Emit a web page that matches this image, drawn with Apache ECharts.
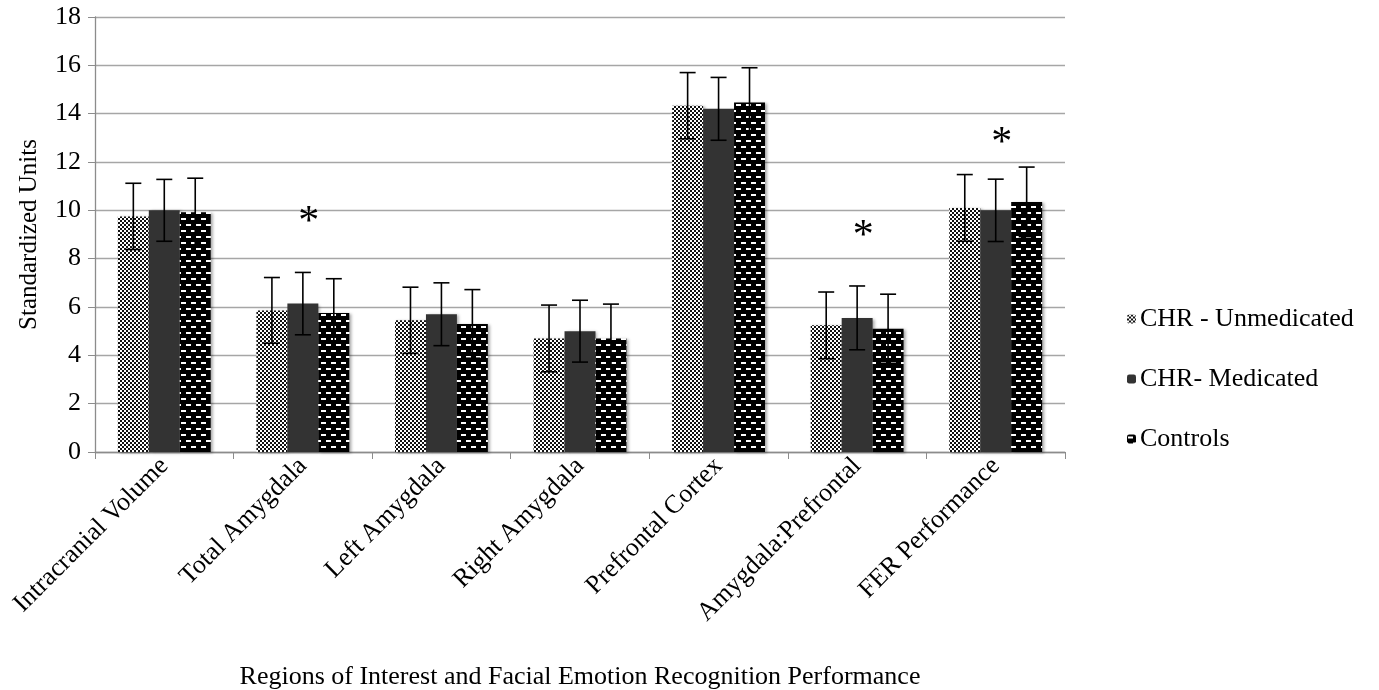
<!DOCTYPE html>
<html>
<head>
<meta charset="utf-8">
<script src="https://cdn.jsdelivr.net/npm/echarts@6/dist/echarts.min.js"></script>
<style>html,body{margin:0;padding:0;background:#fff}#c{width:1379px;height:690px}</style>
</head>
<body>
<div id="c"></div>
<script>
const categories = ["Intracranial Volume","Total Amygdala","Left Amygdala","Right Amygdala","Prefrontal Cortex","Amygdala:Prefrontal","FER Performance"];
const seriesNames = ["CHR - Unmedicated","CHR- Medicated","Controls"];
const unmedicated = [9.75, 5.86, 5.45, 4.7, 14.33, 5.24, 10.1];
const medicated   = [10.0, 6.14, 5.7, 5.0, 14.2, 5.55, 10.0];
const controls    = [9.92, 5.75, 5.3, 4.7, 14.46, 5.1, 10.35];
const unmedicatedErr = [1.37, 1.36, 1.37, 1.38, 1.37, 1.38, 1.38];
const medicatedErr   = [1.28, 1.29, 1.3, 1.28, 1.3, 1.32, 1.29];
const controlsErr    = [1.41, 1.42, 1.42, 1.42, 1.44, 1.43, 1.44];
const asteriskCats = [1, 5, 6];
const asteriskY = [9.75, 9.2, 13.05];
const yTicks = {min: 0, max: 18, interval: 2};

function checker() {
  const c = document.createElement('canvas'); c.width = 4; c.height = 4;
  const g = c.getContext('2d');
  g.fillStyle = '#ffffff'; g.fillRect(0,0,4,4);
  g.fillStyle = '#111111'; g.fillRect(0,0,2,2); g.fillRect(2,2,2,2);
  return {image: c, repeat: 'repeat'};
}
function dashes() {
  const c = document.createElement('canvas'); c.width = 10; c.height = 12;
  const g = c.getContext('2d');
  g.fillStyle = '#000000'; g.fillRect(0,0,10,12);
  g.fillStyle = '#ffffff';
  g.fillRect(1,2,5,2);
  g.fillRect(6,8,4,2); g.fillRect(0,8,1,2);
  return {image: c, repeat: 'repeat'};
}
const fills = [checker(), '#333333', dashes()];
const values = [unmedicated, medicated, controls];
const errs = [unmedicatedErr, medicatedErr, controlsErr];
const CAT_GAP = 0.33;
const FONT = '"Liberation Serif", "Times New Roman", serif';

const errData = [];
values.forEach((arr, s) => arr.forEach((v, i) => errData.push([i, v - errs[s][i], v + errs[s][i], s])));

const barSeries = values.map((arr, s) => ({
  name: seriesNames[s], type: 'bar', data: arr, barGap: '0%', barCategoryGap: (CAT_GAP*100) + '%',
  itemStyle: {color: fills[s], shadowColor: 'rgba(0,0,0,0.35)', shadowBlur: 3, shadowOffsetX: 2, shadowOffsetY: 1},
  emphasis: {disabled: true}, animation: false, z: 2
}));

const option = {
  animation: false,
  backgroundColor: '#fff',
  grid: {left: 95, right: 314, top: 17, bottom: 238, containLabel: false, outerBoundsMode: 'none'},
  legend: {
    orient: 'vertical', left: 1122, top: 301, itemWidth: 9, itemHeight: 9, itemGap: 34,
    data: seriesNames, selectedMode: false,
    textStyle: {fontFamily: FONT, fontSize: 26, color: '#000', padding: [0,0,0,-1]}
  },
  xAxis: {
    type: 'category', data: categories,
    name: 'Regions of Interest and Facial Emotion Recognition Performance',
    nameLocation: 'middle', nameGap: 212,
    nameTextStyle: {fontFamily: FONT, fontSize: 26, color: '#000'},
    axisLine: {lineStyle: {color: '#8c8c8c', width: 1.3}},
    axisTick: {show: true, length: 7, lineStyle: {color: '#8c8c8c'}},
    axisLabel: {rotate: 45, fontFamily: FONT, fontSize: 26, color: '#000', margin: 10, interval: 0}
  },
  yAxis: {
    type: 'value', min: yTicks.min, max: yTicks.max, interval: yTicks.interval,
    name: 'Standardized Units', nameLocation: 'middle', nameGap: 53, nameRotate: 90,
    nameTextStyle: {fontFamily: FONT, fontSize: 25, color: '#000'},
    axisLine: {show: true, lineStyle: {color: '#8c8c8c', width: 1.3}},
    axisTick: {show: true, length: 7, lineStyle: {color: '#8c8c8c'}},
    axisLabel: {fontFamily: FONT, fontSize: 26, color: '#000', margin: 14},
    splitLine: {lineStyle: {color: '#a6a6a6', width: 1.3}}
  },
  series: barSeries.concat([
    {
      type: 'custom', data: errData, z: 5, silent: true,
      renderItem: function (params, api) {
        const cat = api.value(0), lo = api.value(1), hi = api.value(2), s = api.value(3);
        const band = api.size([1, 0])[0];
        const bw = band * (1 - CAT_GAP) / 3;
        const c = api.coord([cat, lo]);
        const x = c[0] + (s - 1) * bw;
        const y1 = api.coord([cat, hi])[1], y0 = c[1];
        const cap = 8;
        const st = {stroke: '#000', lineWidth: 1.6};
        return {type: 'group', children: [
          {type: 'line', shape: {x1: x, y1: y1, x2: x, y2: y0}, style: st},
          {type: 'line', shape: {x1: x - cap, y1: y1, x2: x + cap, y2: y1}, style: st},
          {type: 'line', shape: {x1: x - cap, y1: y0, x2: x + cap, y2: y0}, style: st}
        ]};
      }
    },
    {
      type: 'custom', data: asteriskCats.map((c, i) => [c, asteriskY[i]]), z: 6, silent: true,
      renderItem: function (params, api) {
        const p = api.coord([api.value(0), api.value(1)]);
        return {type: 'text', style: {text: '*', x: p[0] + 6, y: p[1] + 7, fontFamily: FONT, fontSize: 42, fill: '#000', align: 'center', verticalAlign: 'middle'}};
      }
    }
  ])
};
const chart = echarts.init(document.getElementById('c'), null, {renderer: 'canvas'});
chart.setOption(option);
</script>
</body>
</html>
